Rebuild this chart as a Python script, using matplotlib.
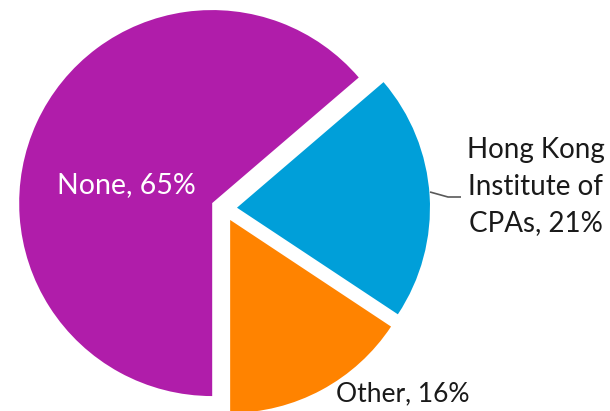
import matplotlib
matplotlib.use("Agg")
import matplotlib.pyplot as plt

categories = ["Other", "Hong Kong\nInstitute of\nCPAs", "None"]
values = [16, 21, 65]
colors = ["#FF8300", "#009FD9", "#B01DAA"]

W, H = 610, 411
fig = plt.figure(figsize=(W / 100, H / 100), dpi=100)
ax = fig.add_axes([0, 0, 1, 1])

cx, cy, R = 224, 411 - 208.5, 193
# explode is in data units (pixels here)
wedges, _ = ax.pie(values, colors=colors, startangle=-90, counterclock=True,
                   explode=[13] * 3, center=(cx, cy), radius=R,
                   wedgeprops=dict(linewidth=0))
ax.set_xlim(0, W)
ax.set_ylim(0, H)
ax.set_aspect("equal")
ax.axis("off")

font = "Lato"
labels = [f"{c}, {v}%" for c, v in zip(categories, values)]
ax.text(403, 411 - 394, labels[0], ha="center", va="center", fontsize=19,
        color="#1a1a1a", family=font)
ax.text(536, 411 - 187, labels[1], ha="center", va="center", fontsize=20,
        color="#1a1a1a", family=font, linespacing=1.5)
ax.text(126, 411 - 185, labels[2], ha="center", va="center", fontsize=20.5,
        color="white", family=font)
ax.plot([430, 448, 461], [411 - 192, 411 - 197, 411 - 197], color="#595959",
        lw=1.2, solid_capstyle="butt")

fig.savefig("out.png", dpi=100)
